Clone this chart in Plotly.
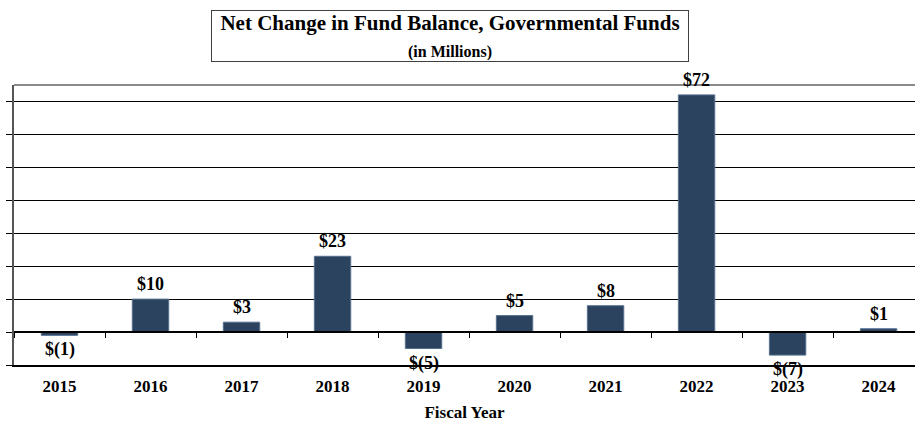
import plotly.graph_objects as go

# Fiscal years and net change in fund balance ($ millions)
years = ["2015", "2016", "2017", "2018", "2019", "2020", "2021", "2022", "2023", "2024"]
net_change = [-1, 10, 3, 23, -5, 5, 8, 72, -7, 1]
labels = ["$(1)", "$10", "$3", "$23", "$(5)", "$5", "$8", "$72", "$(7)", "$1"]

y_min, y_max = -10, 75
bar_color = "#2c4360"
font_family = "Liberation Serif, Times New Roman, serif"

fig = go.Figure()

fig.add_trace(go.Bar(
    x=years, y=net_change, width=0.4,
    marker=dict(color=bar_color, line=dict(color="#56708e", width=1)),
    hoverinfo="x+y", showlegend=False,
))

# Invisible trace that carries the category axis drawn along y = 0
fig.add_trace(go.Scatter(
    x=years, y=[0] * len(years), xaxis="x2", mode="markers",
    marker=dict(opacity=0), hoverinfo="skip", showlegend=False,
))

# Value labels: above positive bars, below negative ones
# ("$" is escaped so paired dollar signs are not read as TeX)
for i, (v, lab) in enumerate(zip(net_change, labels)):
    fig.add_annotation(
        xref="x", yref="y", x=i, y=v,
        text="<b>" + lab.replace("$", "&#36;") + "</b>", showarrow=False,
        yanchor="bottom" if v >= 0 else "top",
        yshift=3 if v >= 0 else -2,
        font=dict(family=font_family, size=18, color="black"),
    )

# Boxed title
fig.add_annotation(
    xref="paper", yref="paper", x=0.484, y=1.175, yanchor="middle",
    text="<b>Net Change in Fund Balance, Governmental Funds</b><br>"
         "<span style='font-size:16px'><b>(in Millions)</b></span>",
    showarrow=False, align="center",
    font=dict(family=font_family, size=21, color="black"),
    bordercolor="#404040", borderwidth=1, borderpad=1, bgcolor="white",
    width=474, height=48,
)

# Top border of the plot area
fig.add_shape(type="line", xref="paper", yref="paper", x0=0, x1=1, y0=1, y1=1,
              line=dict(color="#8a8a8a", width=2))

zero_pos = (0 - y_min) / (y_max - y_min)

fig.update_layout(
    width=915, height=422, autosize=False,
    margin=dict(l=14, r=0, t=85, b=57),
    paper_bgcolor="white", plot_bgcolor="white",
    font=dict(family=font_family, color="black"),
    bargap=0.6,
    xaxis=dict(
        type="category", range=[-0.5, 9.4],
        showline=True, linecolor="black", linewidth=2,
        ticks="", showgrid=False, ticklabelstandoff=5,
        tickfont=dict(family=font_family, size=17, color="black"),
        tickprefix="<b>", ticksuffix="</b>",
        title=dict(text="<b>Fiscal Year</b>", standoff=12,
                   font=dict(family=font_family, size=17, color="black")),
    ),
    xaxis2=dict(
        type="category", overlaying="x", anchor="free", position=zero_pos,
        matches="x", side="bottom",
        showline=True, linecolor="black", linewidth=1.5,
        ticks="outside", tickson="boundaries", ticklen=5, tickcolor="black",
        tickwidth=1, showticklabels=False, showgrid=False,
    ),
    yaxis=dict(
        range=[y_min, y_max], dtick=10, tick0=0,
        showgrid=True, gridcolor="black", gridwidth=1,
        zeroline=False, showticklabels=False,
        ticks="outside", ticklen=6, tickcolor="black",
        showline=True, linecolor="#555555", linewidth=2,
    ),
)

fig.write_html("out.html")
